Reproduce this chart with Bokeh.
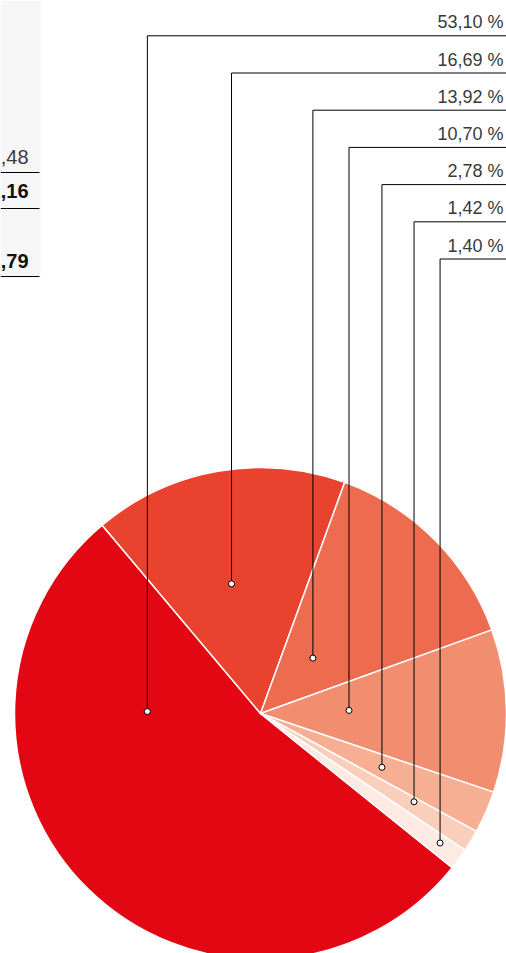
import math
from bokeh.plotting import figure
from bokeh.models import Range1d, ColumnDataSource
from bokeh.core.properties import value
from bokeh.embed import file_html
from bokeh.resources import INLINE

# ---- data ----
shares = [53.10, 16.69, 13.92, 10.70, 2.78, 1.42, 1.40]
share_labels = ["53,10 %", "16,69 %", "13,92 %", "10,70 %", "2,78 %", "1,42 %", "1,40 %"]
table_vals = [",48", ",16", ",79"]
table_bold = [False, True, True]

# ---- style / layout ----
colors = ["#E30613", "#E9432F", "#ED6B4E", "#F18E70", "#F6AF93", "#F9CEBB", "#FDEAE2"]
W, H = 506, 953
PAGE_H = 953
cx, cy_pix, R = 260, 713, 246
start_deg = 321.2          # where first slice begins, slices run clockwise
anchor_deg = [179, 102.6, 46.6, 2.0, -23.9, -29.9, -35.8]
anchor_rf = [0.46, 0.54, 0.31, 0.36, 0.54, 0.72, 0.90]
row0, row_step = 35.3, 37.2
right_x = 506

def Y(pix):
    return PAGE_H - pix

p = figure(width=W, height=H, x_range=Range1d(0, W), y_range=Range1d(0, H),
           output_backend="svg", toolbar_location=None, min_border=0)
p.axis.visible = False
p.grid.visible = False
p.outline_line_color = None
p.background_fill_color = "white"

# left table panel
p.quad(left=0, right=40, top=Y(0), bottom=Y(277), fill_color="#F6F6F6", line_color=None)
tbl_base = [156.5, 190.5, 260.5]
tbl_line = [172, 208, 276]
for v, b, yb, yl in zip(table_vals, table_bold, tbl_base, tbl_line):
    p.text(x=[28], y=[Y(yb)], text=[v], text_align="right", text_baseline="alphabetic",
           text_font=value("Liberation Sans"), text_font_size="20px",
           text_font_style="bold" if b else "normal",
           text_color="#111111" if b else "#3a3a3a")
    p.segment(x0=[0], y0=[Y(yl)], x1=[39], y1=[Y(yl)], line_color="black", line_width=1)

# pie slices
cy = Y(cy_pix)
total = sum(shares)
cum = 0.0
starts, ends = [], []
for s in shares:
    a0 = start_deg - (cum + s) / total * 360.0
    a1 = start_deg - cum / total * 360.0
    starts.append(math.radians(a0))
    ends.append(math.radians(a1))
    cum += s
src = ColumnDataSource(dict(x=[cx] * len(shares), y=[cy] * len(shares),
                            start=starts, end=ends, color=colors))
p.wedge(x="x", y="y", radius=R, start_angle="start", end_angle="end",
        fill_color="color", line_color="white", line_width=1.5, source=src)

# leader lines and labels
ax, ay = [], []
for i, lab in enumerate(share_labels):
    a = math.radians(anchor_deg[i])
    x = cx + R * anchor_rf[i] * math.cos(a)
    y = cy + R * anchor_rf[i] * math.sin(a)
    ry = Y(row0 + i * row_step)
    p.line(x=[x, x, right_x], y=[y, ry, ry], line_color="black", line_width=1)
    p.text(x=[503], y=[ry + 13.5], text=[lab], text_align="right", text_baseline="alphabetic",
           text_font=value("Liberation Sans"), text_font_size="18px", text_color="#3a3a3a")
    ax.append(x)
    ay.append(y)
p.scatter(x=ax, y=ay, size=6, marker="circle", fill_color="white", line_color="black", line_width=1)

open("out.html", "w").write(file_html(p, INLINE))
